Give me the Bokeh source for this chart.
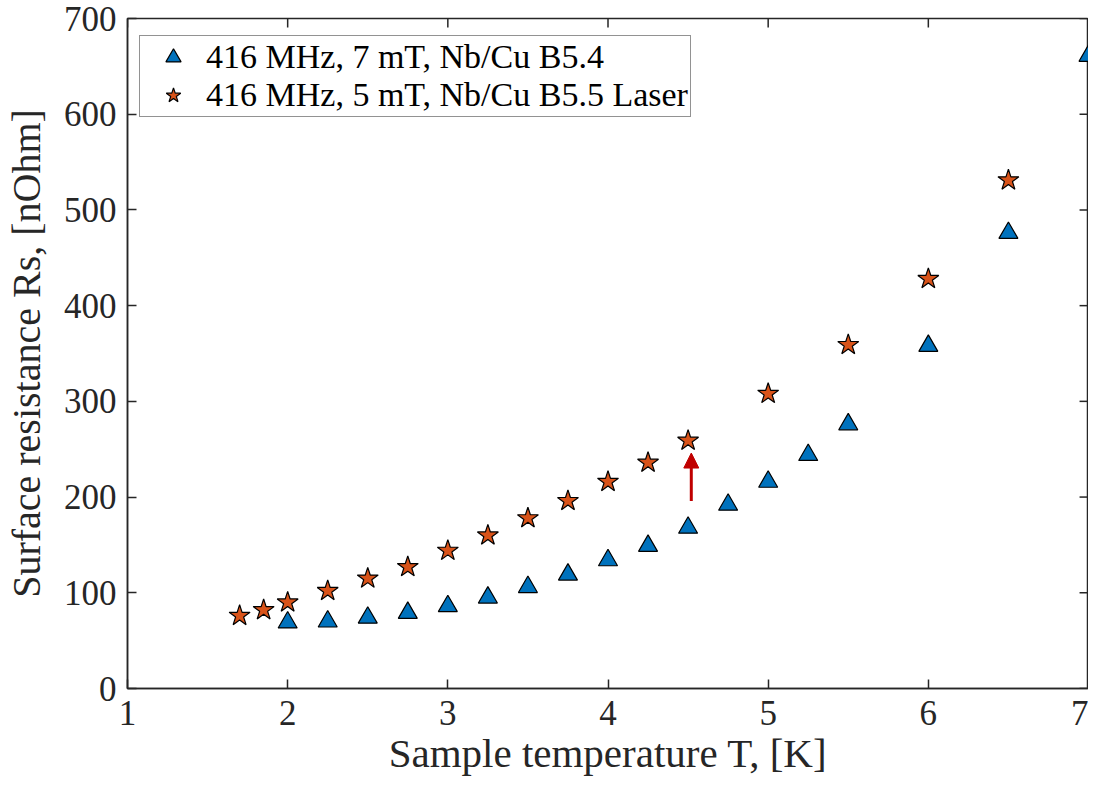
from bokeh.plotting import figure
from bokeh.models import Range1d, Arrow, NormalHead, Legend, LegendItem, FixedTicker
from bokeh.embed import file_html
from bokeh.resources import INLINE

# Data
t_b54 = [2.0, 2.25, 2.5, 2.75, 3.0, 3.25, 3.5, 3.75, 4.0, 4.25, 4.5, 4.75, 5.0, 5.25, 5.5, 6.0, 6.5, 7.0]
rs_b54 = [69, 70, 74, 79, 86, 95, 106, 119, 134, 149, 168, 192, 216, 244, 276, 358, 476, 661]

t_b55 = [1.7, 1.85, 2.0, 2.25, 2.5, 2.75, 3.0, 3.25, 3.5, 3.75, 4.0, 4.25, 4.5, 5.0, 5.5, 6.0, 6.5]
rs_b55 = [76, 82, 90, 102, 115, 127, 144, 160, 178, 196, 216, 236, 259, 308, 359, 428, 531]

arrow_x = 4.52
arrow_y_start = 196
arrow_y_end = 246

x_ticks = [1, 2, 3, 4, 5, 6, 7]
y_ticks = [0, 100, 200, 300, 400, 500, 600, 700]
x_min, x_max = 1, 7
y_min, y_max = 0, 700

label_b54 = "416 MHz, 7 mT, Nb/Cu B5.4"
label_b55 = "416 MHz, 5 mT, Nb/Cu B5.5 Laser"

FONT = "Liberation Serif"
AX = "#262626"

W, H = 1088, 789
BL, BR, BT, BB = 122, 0, 18, 101
frame_w = W - BL - BR
frame_h = H - BT - BB
TICK = 9  # px

p = figure(width=W, height=H, output_backend="svg", toolbar_location=None,
           x_range=Range1d(x_min, x_max), y_range=Range1d(y_min, y_max),
           min_border_left=BL, min_border_right=BR, min_border_top=BT, min_border_bottom=BB,
           x_axis_label="Sample temperature T, [K]", y_axis_label="Surface resistance Rs, [nOhm]")
p.grid.visible = False
p.outline_line_color = AX
p.outline_line_width = 1.5
p.background_fill_color = "white"
p.border_fill_color = "white"

for ax in [p.xaxis[0], p.yaxis[0]]:
    ax.axis_line_color = AX
    ax.axis_line_width = 1.5
    ax.major_tick_in = TICK
    ax.major_tick_out = 0
    ax.minor_tick_in = 0
    ax.minor_tick_out = 0
    ax.major_tick_line_color = AX
    ax.major_tick_line_width = 1.5
    ax.major_label_text_font = FONT
    ax.major_label_text_font_size = "35px"
    ax.major_label_text_color = AX
    ax.axis_label_text_font = FONT
    ax.axis_label_text_font_style = "normal"
    ax.axis_label_text_color = AX

p.xaxis.axis_label_text_font_size = "41px"
p.yaxis.axis_label_text_font_size = "40px"
p.xaxis.ticker = FixedTicker(ticks=x_ticks)
p.yaxis.ticker = FixedTicker(ticks=y_ticks)
p.xaxis.major_label_standoff = 12
p.yaxis.major_label_standoff = 11
p.xaxis.axis_label_standoff = 2
p.yaxis.axis_label_standoff = 12

# mirrored ticks on top and right edges
ty = (y_max - y_min) * TICK / frame_h
tx = (x_max - x_min) * TICK / frame_w
p.segment(x0=x_ticks, y0=[y_max] * len(x_ticks), x1=x_ticks, y1=[y_max - ty] * len(x_ticks),
          line_color=AX, line_width=1.5)
p.segment(x0=[x_max] * len(y_ticks), y0=y_ticks, x1=[x_max - tx] * len(y_ticks), y1=y_ticks,
          line_color=AX, line_width=1.5)

r1 = p.scatter(t_b54, rs_b54, marker="triangle", size=19, fill_color="#0072BD",
               line_color="black", line_width=1.2)
r2 = p.scatter(t_b55, rs_b55, marker="star", size=22, fill_color="#D95319",
               line_color="black", line_width=1.2)

p.add_layout(Arrow(end=NormalHead(size=15, fill_color="#C00000", line_color="#C00000"),
                   x_start=arrow_x, y_start=arrow_y_start, x_end=arrow_x, y_end=arrow_y_end,
                   line_color="#C00000", line_width=3))

legend = Legend(items=[LegendItem(label=label_b54, renderers=[r1]),
                       LegendItem(label=label_b55, renderers=[r2])],
                location=(12, 571))
legend.label_text_font = FONT
legend.label_text_font_size = "34px"
legend.label_text_color = "black"
legend.border_line_color = AX
legend.border_line_width = 1.5
legend.glyph_width = 62
legend.glyph_height = 38
legend.label_height = 38
legend.spacing = 0
legend.padding = 2
legend.margin = 0
legend.label_standoff = 2
legend.background_fill_alpha = 1
p.add_layout(legend, "center")

open("out.html", "w").write(file_html(p, INLINE))
